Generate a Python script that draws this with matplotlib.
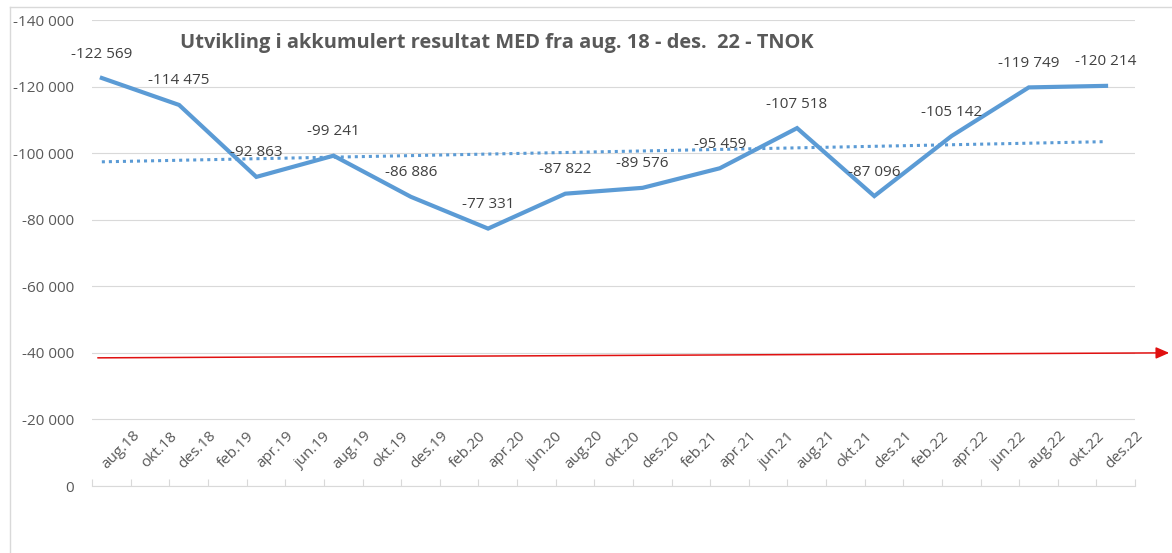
import numpy as np
import matplotlib
matplotlib.use("Agg")
import matplotlib.pyplot as plt
from matplotlib.ticker import FuncFormatter, MultipleLocator

plt.rcParams['font.family'] = ['Open Sans', 'DejaVu Sans']

# Category labels on the x axis (every second month)
months = ['aug.18', 'okt.18', 'des.18', 'feb.19', 'apr.19', 'jun.19', 'aug.19',
          'okt.19', 'des.19', 'feb.20', 'apr.20', 'jun.20', 'aug.20', 'okt.20',
          'des.20', 'feb.21', 'apr.21', 'jun.21', 'aug.21', 'okt.21', 'des.21',
          'feb.22', 'apr.22', 'jun.22', 'aug.22', 'okt.22', 'des.22']

# Accumulated result (TNOK), one value every four months
periods = ['aug.18', 'des.18', 'apr.19', 'aug.19', 'des.19', 'apr.20', 'aug.20',
           'des.20', 'apr.21', 'aug.21', 'des.21', 'apr.22', 'aug.22', 'des.22']
result = [-122569, -114475, -92863, -99241, -86886, -77331, -87822,
          -89576, -95459, -107518, -87096, -105142, -119749, -120214]

# red reference arrow (start / end level)
ref_start = -38500
ref_end = -40000

BLUE = '#5b9bd5'
GRID = '#d9d9d9'
TXT = '#595959'

fig = plt.figure(figsize=(11.72, 5.53), dpi=100)
ax = fig.add_axes([92 / 1172, 1 - 486 / 553, (1135 - 92) / 1172, (486 - 20) / 553])

x = np.array([months.index(p) for p in periods])
y = np.array(result)

ax.plot(x, y, color=BLUE, lw=3, solid_joinstyle='miter', zorder=3)

# linear trendline
k, b = np.polyfit(x, y, 1)
ax.plot(x[[0, -1]], k * x[[0, -1]] + b, color=BLUE, lw=2.2,
        linestyle=(0, (1, 1.3)), zorder=2)

for xi, yi in zip(x, y):
    lbl = f"{yi:,}".replace(",", " ")
    ax.annotate(lbl, (xi, yi), xytext=(0, 24), textcoords='offset pixels',
                ha='center', va='center', fontsize=11, color='#404040', zorder=4)

ax.set_xlim(-0.255, 26.28)
ax.set_ylim(0, -140000)
ax.yaxis.set_major_locator(MultipleLocator(20000))
ax.yaxis.set_major_formatter(FuncFormatter(lambda v, p: f"{int(v):,}".replace(",", " ")))
ax.grid(axis='y', color=GRID, lw=0.8)
ax.set_axisbelow(True)
for s in ['top', 'right', 'left']:
    ax.spines[s].set_visible(False)
ax.spines['bottom'].set_color(GRID)
ax.spines['bottom'].set_linewidth(0.8)
ax.tick_params(axis='y', length=0, pad=13, labelsize=11, labelcolor=TXT)
ax.set_xticks(np.arange(len(months) + 1) - 0.25)
ax.set_xticklabels([])
ax.tick_params(axis='x', direction='in', length=5, color=GRID, width=0.8)

# month labels sit above the axis line, rotated
for i, m in enumerate(months):
    ax.text(i + 0.48, -10800, m, rotation=45, ha='center', va='center',
            fontsize=11, color=TXT)

ax.annotate('', xy=(1.0, ref_end), xycoords=('figure fraction', 'data'),
            xytext=(95 / 1172, ref_start), textcoords=('figure fraction', 'data'),
            arrowprops=dict(arrowstyle='-|>,head_length=0.8,head_width=0.35',
                            color='#e01010', lw=1.1), annotation_clip=False)

fig.text(180 / 1172, 1 - 43 / 553,
         'Utvikling i akkumulert resultat MED fra aug. 18 - des.  22 - TNOK',
         ha='left', va='center', fontsize=14.4, fontweight='bold', color=TXT)

# chart frame
fig.add_artist(plt.Line2D([10 / 1172, 10 / 1172], [0, 1 - 7 / 553], color=GRID, lw=1))
fig.add_artist(plt.Line2D([10 / 1172, 1], [1 - 7 / 553, 1 - 7 / 553], color=GRID, lw=1))

fig.savefig('out.png', dpi=100)
